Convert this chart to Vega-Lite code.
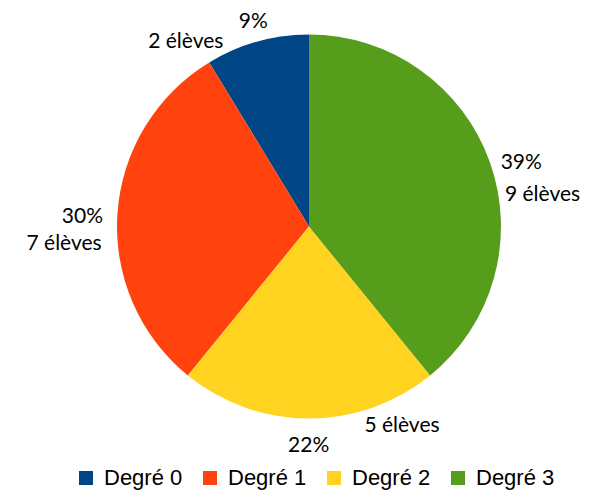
{
  "$schema": "https://vega.github.io/schema/vega-lite/v6.json",
  "width": 574,
  "height": 453,
  "autosize": "none",
  "padding": {"left": 22, "top": 0, "right": 0, "bottom": 40},
  "background": "white",
  "config": {"view": {"stroke": null}},
  "data": {
    "values": [
      {"degre": "Degré 0", "n": 2, "pct": "9%", "label": "2 élèves"},
      {"degre": "Degré 1", "n": 7, "pct": "30%", "label": "7 élèves"},
      {"degre": "Degré 2", "n": 5, "pct": "22%", "label": "5 élèves"},
      {"degre": "Degré 3", "n": 9, "pct": "39%", "label": "9 élèves"}
    ]
  },
  "encoding": {
    "theta": {"field": "n", "type": "quantitative", "stack": true},
    "order": {"field": "degre", "sort": "descending"}
  },
  "layer": [
    {
      "mark": {"type": "arc", "outerRadius": 192, "stroke": null},
      "encoding": {
        "color": {
          "field": "degre",
          "type": "nominal",
          "scale": {
            "domain": ["Degré 0", "Degré 1", "Degré 2", "Degré 3"],
            "range": ["#004586", "#ff420e", "#ffd320", "#579d1c"]
          },
          "legend": {
            "orient": "none",
            "legendX": 53,
            "legendY": 467,
            "direction": "horizontal",
            "title": null,
            "symbolType": "square",
            "symbolSize": 196,
            "symbolStrokeWidth": 0,
            "labelFont": "Liberation Sans",
            "labelFontSize": 22,
            "labelColor": "black",
            "labelOffset": 7,
            "columnPadding": 16
          }
        }
      }
    },
    {
      "mark": {
        "type": "text",
        "radius": 205,
        "font": "Lato",
        "fontSize": 21,
        "color": "black",
        "baseline": "alphabetic",
        "align": {"expr": "datum.degre === 'Degré 3' ? 'left' : datum.degre === 'Degré 1' ? 'right' : 'center'"},
        "dx": {"expr": "datum.degre === 'Degré 3' ? -1.5 : datum.degre === 'Degré 1' ? -1.5 : datum.degre === 'Degré 2' ? -0.3 : -0.4"},
        "dy": {"expr": "datum.degre === 'Degré 3' ? 11.5 : datum.degre === 'Degré 1' ? 10.2 : datum.degre === 'Degré 2' ? 20.2 : -1.1"}
      },
      "encoding": {"text": {"field": "pct"}}
    },
    {
      "mark": {
        "type": "text",
        "radius": 205,
        "font": "Lato",
        "fontSize": 21,
        "color": "black",
        "baseline": "alphabetic",
        "align": {"expr": "datum.degre === 'Degré 3' ? 'left' : datum.degre === 'Degré 1' ? 'right' : 'center'"},
        "dx": {"expr": "datum.degre === 'Degré 3' ? 2.8 : datum.degre === 'Degré 1' ? -2.8 : datum.degre === 'Degré 2' ? 93 : -67.9"},
        "dy": {"expr": "datum.degre === 'Degré 3' ? 43.2 : datum.degre === 'Degré 1' ? 37.5 : datum.degre === 'Degré 2' ? 0.2 : 19.2"}
      },
      "encoding": {"text": {"field": "label"}}
    }
  ]
}
